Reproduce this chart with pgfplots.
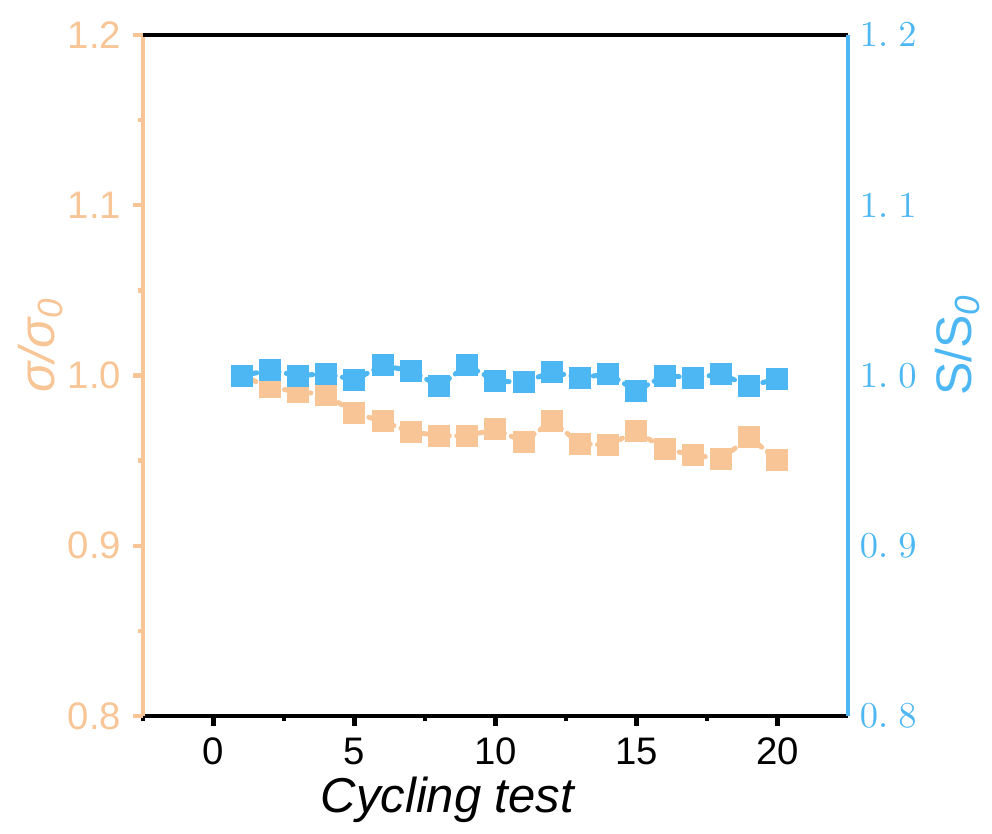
\documentclass[border=0pt]{standalone}
\usepackage{pgfplots}
\pgfplotsset{compat=1.18}
\usepackage{fontspec}
\setmainfont{Liberation Sans}

\definecolor{peach}{RGB}{247,197,150}
\definecolor{skyb}{RGB}{77,183,243}

\pgfplotstableread{
x sig
1 1.000
2 0.993
3 0.9905
4 0.9887
5 0.978
6 0.973
7 0.9668
8 0.9647
9 0.9645
10 0.9684
11 0.9611
12 0.9731
13 0.960
14 0.959
15 0.9674
16 0.9566
17 0.9535
18 0.9508
19 0.9639
20 0.9502
}\sigtab

\pgfplotstableread{
x s
1 1.000
2 1.003
3 1.000
4 1.001
5 0.9975
6 1.006
7 1.0026
8 0.994
9 1.006
10 0.9968
11 0.996
12 1.002
13 0.9987
14 1.0009
15 0.991
16 1.000
17 0.9987
18 1.0007
19 0.9938
20 0.9981
}\stab

\begin{document}
\begin{tikzpicture}
  \begin{axis}[
      scale only axis, width=211.5pt, height=204.3pt,
      xmin=-2.5, xmax=22.5, ymin=0.8, ymax=1.2,
      separate axis lines,
      x axis line style={black, line width=1.2pt},
      y axis line style={peach, line width=1.2pt},
      xtick pos=bottom, ytick pos=left,
      xtick={0,5,10,15,20}, minor xtick={-2.5,2.5,7.5,12.5,17.5},
      ytick={0.8,0.9,1.0,1.1,1.2}, minor ytick={0.85,0.95,1.05,1.15},
      tick align=outside,
      major tick length=3pt, minor tick length=1.5pt,
      xtick style={black, line width=1.3pt},
      ytick style={peach, line width=1.3pt},
      /pgf/number format/assume math mode=true,
      xticklabel style={font=\fontsize{11.5}{12}\selectfont},
      yticklabel style={font=\fontsize{11.5}{12}\selectfont, text=peach,
        /pgf/number format/.cd, fixed, fixed zerofill, precision=1},
      xlabel={\textit{Cycling test}},
      xlabel style={font=\fontsize{14.7}{16}\selectfont, at={(axis description cs:0.433,-0.123)}, anchor=center},
      ylabel={\textit{σ/σ\textsubscript{0}}},
      ylabel style={font=\fontsize{15}{16}\selectfont, text=peach, at={(axis description cs:-0.145,0.545)}, anchor=center, rotate=0},
    ]
    \addplot[peach, line width=1.5pt, dash pattern=on 1.2pt off 2.2pt, line cap=round,
      mark=square*, mark size=2.55pt, mark options={solid, draw=none, fill=peach}]
      table[x=x, y=sig] {\sigtab};
  \end{axis}
  \begin{axis}[
      scale only axis, width=211.5pt, height=204.3pt,
      xmin=-2.5, xmax=22.5, ymin=0.8, ymax=1.2,
      axis x line*=top, axis y line*=right,
      xtick=\empty,
      x axis line style={-, black, line width=1.2pt},
      y axis line style={-, skyb, line width=1.2pt},
      ytick={0.8,0.9,1.0,1.1,1.2},
      yticklabels={$0.\;8$,$0.\;9$,$1.\;0$,$1.\;1$,$1.\;2$},
      major tick length=0pt,
      yticklabel style={text=skyb, font=\fontsize{10.5}{12}\selectfont},
      ylabel={S/S\textsubscript{\textit{0}}},
      ylabel style={font=\fontsize{15}{16}\selectfont, text=skyb, at={(axis description cs:1.155,0.545)}, anchor=center, rotate=0},
    ]
    \addplot[skyb, line width=1.5pt, dash pattern=on 1.2pt off 2.2pt, line cap=round,
      mark=square*, mark size=2.55pt, mark options={solid, draw=none, fill=skyb}]
      table[x=x, y=s] {\stab};
  \end{axis}
  \path (current axis.south west) ++(-42.9pt,-34.8pt);
  \path (current axis.north east) ++(43.2pt,10.5pt);
\end{tikzpicture}
\end{document}
